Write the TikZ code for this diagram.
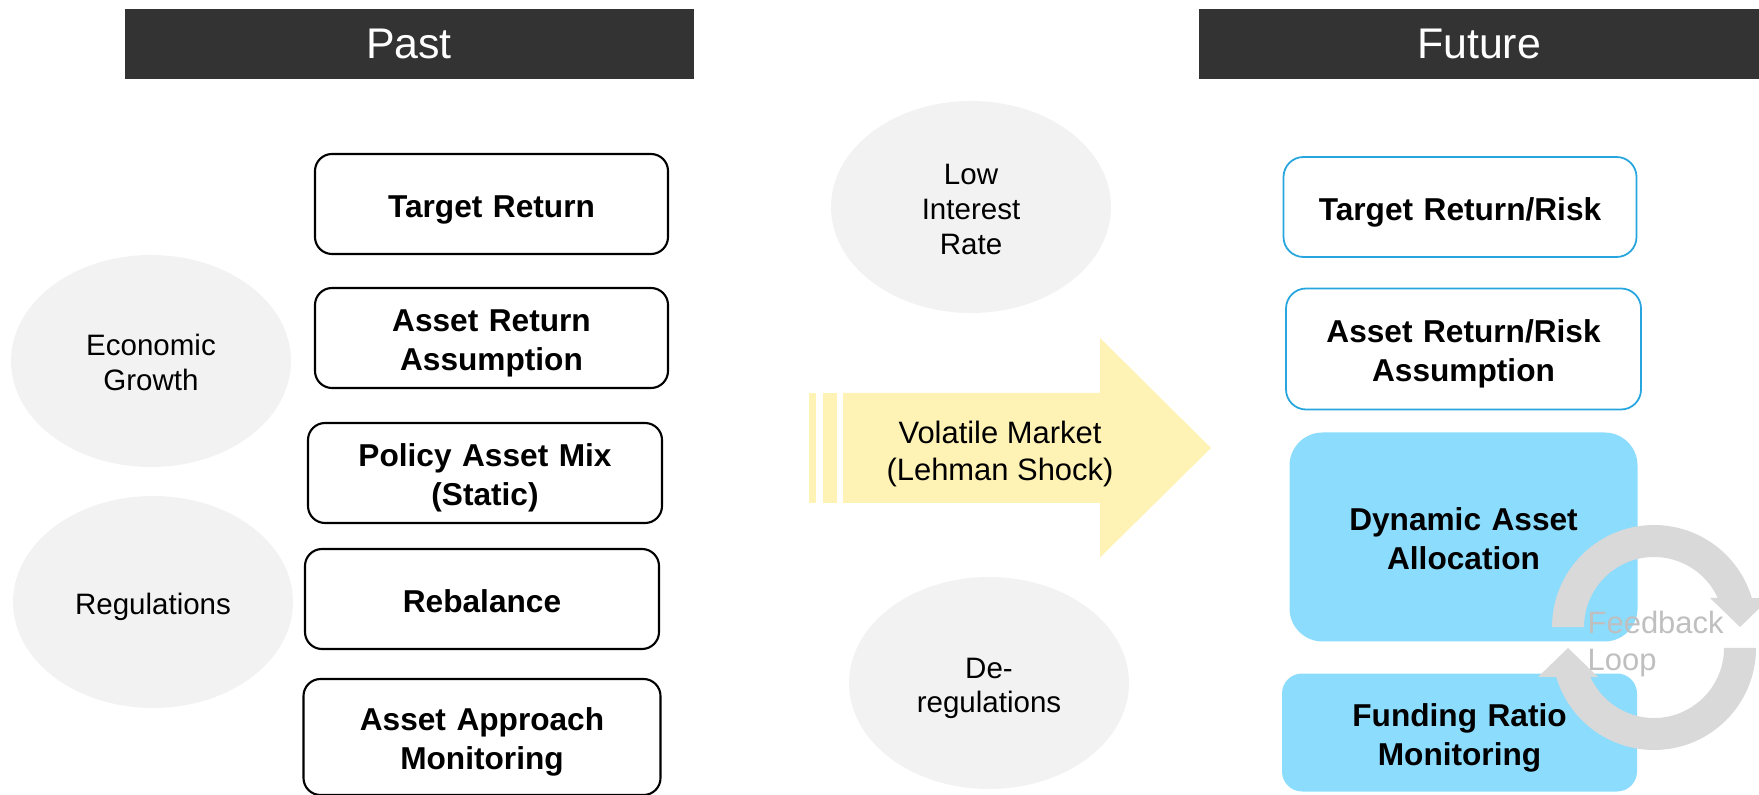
\documentclass[tikz,border=0pt]{standalone}
\usepackage{fontspec}
\setmainfont{Liberation Sans}
\usetikzlibrary{shapes.geometric}
\definecolor{headgray}{HTML}{333333}
\definecolor{ellgray}{HTML}{F2F2F2}
\definecolor{shockyellow}{HTML}{FFF2B5}
\definecolor{newblue}{HTML}{26A5DF}
\definecolor{newfill}{HTML}{8CDCFD}
\definecolor{loopgray}{HTML}{D9D9D9}
\definecolor{looptext}{HTML}{BFBFBF}
\begin{document}
\begin{tikzpicture}[
    header/.style = {fill=headgray, text=white, inner sep=0pt, minimum height=0.7cm,
                     font=\fontsize{12.2}{14}\selectfont},
    padded/.style = {execute at begin node={\rule{0pt}{1.05em}},
                     execute at end node={\rule[-0.21em]{0pt}{0pt}}},
    oldbox/.style = {padded, draw=black, line width=0.6pt, rounded corners=0.17cm, fill=white,
                     inner sep=0.08cm, minimum width=3.53cm, minimum height=1cm,
                     text width=3.2cm, align=center,
                     font=\fontsize{9}{11.2}\selectfont\bfseries},
    newbox/.style = {oldbox, draw=newblue, line width=0.5pt, rounded corners=0.2cm},
    bluebox/.style = {newbox, draw=none, fill=newfill},
    factor/.style = {padded, ellipse, fill=ellgray, inner sep=0pt, minimum width=2.8cm,
                     minimum height=2.12cm, text width=1.7cm, align=center,
                     font=\fontsize{8.4}{9.9}\selectfont}]
    \useasboundingbox (0,0) rectangle (17.59,7.94);
    \clip (0,0) rectangle (17.59,7.94);

    % headers
    \node[header, minimum width=5.69cm] (past) at (4.09,7.50) {Past};
    \node[header, minimum width=5.60cm] (future) at (14.79,7.50) {Future};

    % drivers
    \node[factor] (growth) at (1.51,4.33) {Economic\\Growth};
    \node[factor] (regul) at (1.53,1.92) {Regulations};
    \node[factor] (lowrate) at (9.71,5.87) {Low\\Interest\\Rate};
    \node[factor] (dereg) at (9.89,1.11) {De-\\regulations};

    % old process
    \node[oldbox] (target) at (4.915,5.90) {Target Return};
    \node[oldbox] (assume) at (4.915,4.56) {Asset Return\\Assumption};
    \node[oldbox, minimum width=3.54cm] (mix) at (4.85,3.21) {Policy Asset Mix\\(Static)};
    \node[oldbox, minimum width=3.54cm] (rebal) at (4.82,1.95) {Rebalance};
    \node[oldbox, minimum width=3.57cm, minimum height=1.16cm] (monitor) at (4.82,0.57) {Asset Approach\\Monitoring};

    % shock arrow
    \fill[shockyellow] (8.09,2.91) rectangle (8.16,4.01);
    \fill[shockyellow] (8.23,2.91) rectangle (8.37,4.01);
    \fill[shockyellow] (8.43,2.91) -- (11.00,2.91) -- (11.00,2.365) -- (12.11,3.46)
        -- (11.00,4.56) -- (11.00,4.01) -- (8.43,4.01) -- cycle;
    \node[align=center, font=\fontsize{8.8}{10.8}\selectfont] (shock) at (10.0,3.40)
        {Volatile Market\\(Lehman Shock)};

    % new process
    \node[newbox] (targetrisk) at (14.60,5.87) {Target Return/Risk};
    \node[newbox, minimum width=3.55cm, minimum height=1.21cm] (assumerisk) at (14.635,4.45)
        {Asset Return/Risk\\Assumption};
    \node[bluebox, minimum width=3.48cm, minimum height=2.09cm, rounded corners=0.33cm] (dynamic)
        at (14.635,2.57) {Dynamic Asset\\Allocation};
    \node[bluebox, minimum width=3.55cm, minimum height=1.18cm] (funding) at (14.595,0.615)
        {Funding Ratio\\Monitoring};

    % feedback loop
    \coordinate (upper) at (16.54,1.67);
    \coordinate (lower) at (16.54,1.46);
    \begin{scope}[shift={(upper)}]
        \fill[loopgray] (180:1.02) arc[start angle=180, end angle=16.5, radius=1.02]
            -- (1.16,0.29) -- (0.86,0) -- (0.56,0.29) -- (24.5:0.70)
            arc[start angle=24.5, end angle=180, radius=0.70] -- cycle;
    \end{scope}
    \begin{scope}[shift={(lower)}]
        \fill[loopgray] (0:1.02) arc[start angle=0, end angle=-163.5, radius=1.02]
            -- (-1.16,-0.29) -- (-0.86,0) -- (-0.56,-0.29) -- (-155.5:0.70)
            arc[start angle=-155.5, end angle=0, radius=0.70] -- cycle;
    \end{scope}
    \node[anchor=west, inner sep=0pt, align=left, text=looptext,
          font=\fontsize{8.8}{10.8}\selectfont] (loop) at (15.87,1.50) {Feedback\\Loop};
\end{tikzpicture}
\end{document}
